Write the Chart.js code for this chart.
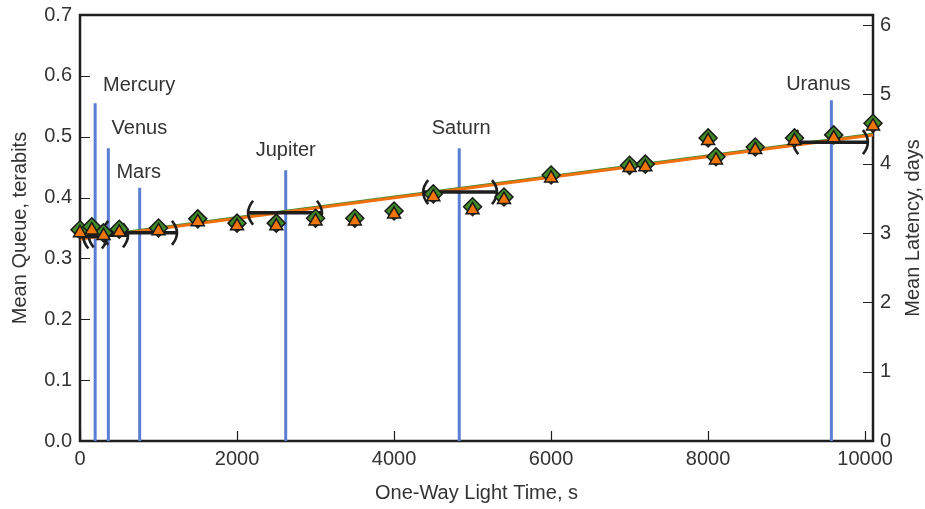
<!DOCTYPE html>
<html><head><meta charset="utf-8">
<script src="https://cdn.jsdelivr.net/npm/chart.js@4"></script>
<style>html,body{margin:0;padding:0;background:#fff;}#wrap{width:925px;height:509px;position:relative;}</style>
</head><body><div id="wrap"><canvas id="c" width="925" height="509"></canvas></div>
<script>
// ---- data ----
const lightTime   = [0,150,300,500,1000,1500,2000,2500,3000,3500,4000,4500,5000,5400,6000,7000,7200,8000,8100,8600,9100,9600,10100];
const meanQueue   = [0.347,0.352,0.342,0.348,0.350,0.365,0.358,0.358,0.366,0.366,0.378,0.406,0.385,0.401,0.437,0.453,0.455,0.498,0.467,0.483,0.498,0.503,0.522];
const meanLatency = [3.00,3.04,2.96,3.01,3.03,3.16,3.10,3.10,3.17,3.17,3.27,3.52,3.33,3.48,3.79,3.94,3.95,4.33,4.05,4.20,4.33,4.37,4.54];
const fitX        = [0, 10100];
const queueFit    = [0.333, 0.504];
const latencyFit  = [2.914, 4.415];
const planets         = ['Mercury','Venus','Mars','Jupiter','Saturn','Uranus'];
const planetLightTime = [193, 361, 760, 2620, 4830, 9570];
const planetLineTop   = [0.555, 0.481, 0.416, 0.445, 0.481, 0.560];
const intervalCenter    = [193, 361, 765, 2611, 4841, 9560];
const intervalHalfWidth = [150, 250, 470, 470, 470, 475];
const intervalQueue     = [0.336, 0.338, 0.342, 0.375, 0.409, 0.491];
const timeTicks    = [0,2000,4000,6000,8000,10000];
const queueTicks   = [0,0.1,0.2,0.3,0.4,0.5,0.6,0.7];
const latencyTicks = [0,1,2,3,4,5,6];

// ---- styles (not data) ----
const labelDX = [44, 31, -1, 0, 2, -13];
const labelDY = [-18, -20, -15, -20, -20, -16];
const FONT = '"Liberation Sans", Arial, sans-serif';
const TXT = '#333';
const AX = '#1e1e1e';

const planetPts = [];
planetLightTime.forEach((t,i)=>{ planetPts.push({x:t,y:0},{x:t,y:planetLineTop[i]},{x:t,y:null}); });

const noPad = s => { s.paddingTop = 0; s.paddingBottom = 0; s.paddingLeft = 0; s.paddingRight = 0; };

const frameAndTicks = {
  id:'frameAndTicks',
  beforeDatasetsDraw(chart){
    const {ctx, chartArea:a, scales} = chart;
    ctx.save();
    ctx.strokeStyle = AX; ctx.lineWidth = 1.2;
    ctx.beginPath();
    queueTicks.forEach(v=>{const p=Math.round(scales.y.getPixelForValue(v))+0.5; ctx.moveTo(a.left,p); ctx.lineTo(a.left+10,p);});
    latencyTicks.forEach(v=>{const p=Math.round(scales.y2.getPixelForValue(v))+0.5; ctx.moveTo(a.right,p); ctx.lineTo(a.right-10,p);});
    timeTicks.forEach(v=>{const p=Math.round(scales.x.getPixelForValue(v))+0.5; ctx.moveTo(p,a.bottom); ctx.lineTo(p,a.bottom-10);});
    ctx.stroke();
    ctx.lineWidth = 2.5;
    ctx.strokeRect(a.left, a.top, a.right-a.left, a.bottom-a.top);
    ctx.restore();
  },
  afterDatasetDraw(chart, args){
    if (args.index !== 2) return;
    const {ctx, scales} = chart;
    ctx.save();
    ctx.strokeStyle = AX;
    intervalCenter.forEach((c,i)=>{
      const xl = scales.x.getPixelForValue(c - intervalHalfWidth[i]);
      const xr = scales.x.getPixelForValue(c + intervalHalfWidth[i]);
      const y = scales.y.getPixelForValue(intervalQueue[i]);
      ctx.lineWidth = 3.5;
      ctx.beginPath(); ctx.moveTo(xl,y); ctx.lineTo(xr,y); ctx.stroke();
      ctx.lineWidth = 2.6;
      ctx.beginPath();
      ctx.moveTo(xl+5,y-12); ctx.quadraticCurveTo(xl-5,y,xl+5,y+12);
      ctx.moveTo(xr-5,y-12); ctx.quadraticCurveTo(xr+5,y,xr-5,y+12);
      ctx.stroke();
    });
    ctx.restore();
  },
  afterDraw(chart){
    const {ctx, chartArea:a, scales} = chart;
    ctx.save();
    ctx.fillStyle = TXT;
    ctx.font = '20px ' + FONT;
    ctx.textAlign = 'center'; ctx.textBaseline = 'middle';
    planets.forEach((n,i)=>{
      const x = scales.x.getPixelForValue(planetLightTime[i]) + labelDX[i];
      const y = scales.y.getPixelForValue(planetLineTop[i]) + labelDY[i];
      ctx.fillText(n, x, y);
    });
    ctx.translate(913, (a.top+a.bottom)/2);
    ctx.rotate(-Math.PI/2);
    ctx.fillText('Mean Latency, days', 0, 0);
    ctx.restore();
  }
};

new Chart(document.getElementById('c'), {
  type:'scatter',
  data:{ datasets:[
    { label:'Mean Latency', yAxisID:'y2', data: lightTime.map((t,i)=>({x:t,y:meanLatency[i]})),
      pointStyle:'triangle', pointRadius:7.5, pointBackgroundColor:'#f07406', pointBorderColor:'#1a1a1a', pointBorderWidth:1.5, showLine:false, clip:false },
    { label:'Mean Queue', yAxisID:'y', data: lightTime.map((t,i)=>({x:t,y:meanQueue[i]})),
      pointStyle:'rectRot', pointRadius:9, pointBackgroundColor:'#408a29', pointBorderColor:'#1a1a1a', pointBorderWidth:1.5, showLine:false, clip:false },
    { label:'Latency fit', yAxisID:'y2', data: fitX.map((t,i)=>({x:t,y:latencyFit[i]})),
      showLine:true, borderColor:'#f07010', borderWidth:3, pointRadius:0 },
    { label:'Queue fit', yAxisID:'y', data: fitX.map((t,i)=>({x:t,y:queueFit[i]})),
      showLine:true, borderColor:'#3f8a2e', borderWidth:3, pointRadius:0 },
    { label:'Planets', yAxisID:'y', data: planetPts, showLine:true, spanGaps:false,
      borderColor:'#5b7fd0', borderWidth:3, pointRadius:0, borderCapStyle:'butt' }
  ]},
  plugins:[frameAndTicks],
  options:{
    responsive:false, animation:false, devicePixelRatio:1,
    layout:{ padding:{ top:15, left:0, right:0, bottom:0 } },
    plugins:{ legend:{display:false}, tooltip:{enabled:false} },
    scales:{
      x:{ type:'linear', position:'bottom', min:0, max:10100,
        afterBuildTicks:s=>{ s.ticks = timeTicks.map(v=>({value:v})); },
        afterFit:s=>{ s.height = 68; noPad(s); },
        grid:{display:false, drawTicks:false}, border:{display:false},
        ticks:{ padding:6, color:TXT, font:{size:20, family:FONT}, maxRotation:0, autoSkip:false, callback:v=>String(v) },
        title:{ display:true, text:'One-Way Light Time, s', color:TXT, font:{size:20, family:FONT}, padding:{top:0,bottom:4} } },
      y:{ type:'linear', position:'left', min:0, max:0.7,
        afterBuildTicks:s=>{ s.ticks = queueTicks.map(v=>({value:v})); },
        afterFit:s=>{ s.width = 80; noPad(s); },
        grid:{display:false, drawTicks:false}, border:{display:false},
        ticks:{ padding:8, color:TXT, font:{size:20, family:FONT}, callback:v=>Number(v).toFixed(1) },
        title:{ display:true, text:'Mean Queue, terabits', color:TXT, font:{size:20, family:FONT}, padding:{top:8,bottom:0} } },
      y2:{ type:'linear', position:'right', min:0, max:6.144,
        afterBuildTicks:s=>{ s.ticks = latencyTicks.map(v=>({value:v})); },
        afterFit:s=>{ s.width = 52; noPad(s); },
        grid:{display:false, drawTicks:false}, border:{display:false},
        ticks:{ padding:7, color:TXT, font:{size:20, family:FONT}, callback:v=>String(v) } }
    }
  }
});
</script>
</body></html>
